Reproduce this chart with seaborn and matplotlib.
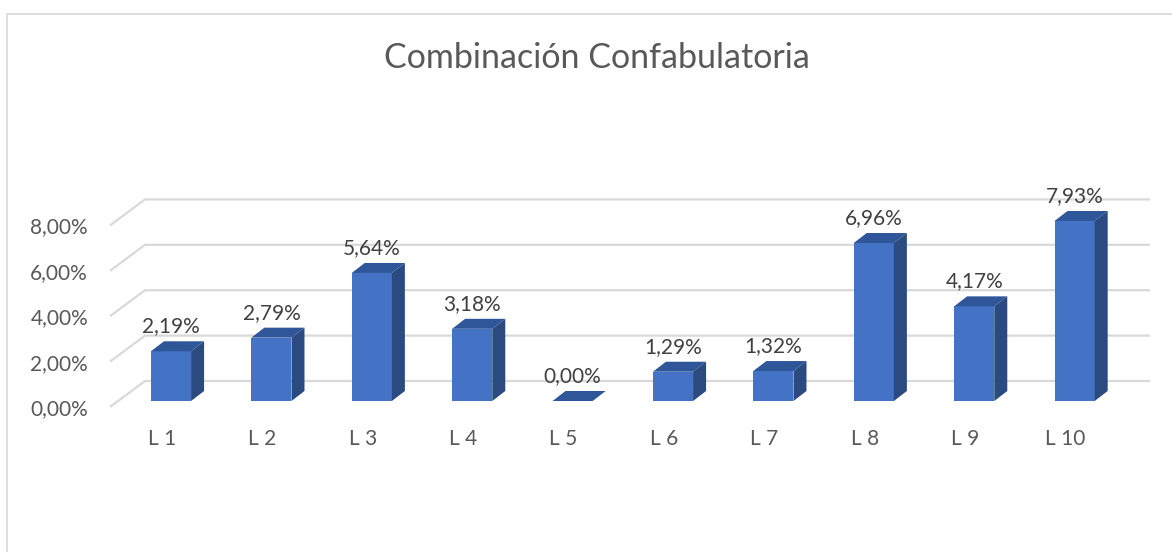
import numpy as np
import matplotlib
matplotlib.use("Agg")
import matplotlib.pyplot as plt
from matplotlib.patches import Polygon
from matplotlib.lines import Line2D
import seaborn as sns

# chart data
categories = ["L 1", "L 2", "L 3", "L 4", "L 5", "L 6", "L 7", "L 8", "L 9", "L 10"]
values = [2.19, 2.79, 5.64, 3.18, 0.00, 1.29, 1.32, 6.96, 4.17, 7.93]
tick_values = [0, 2, 4, 6, 8]
tick_labels = ["0,00%", "2,00%", "4,00%", "6,00%", "8,00%"]
title = "Combinación Confabulatoria"


def pct(v):
    return f"{v:.2f}".replace(".", ",") + "%"


sns.set_style("white")
plt.rcParams["font.family"] = ["Lato", "DejaVu Sans"]

FRONT = "#4472C4"
TOP = "#30569A"
SIDE = "#2A4A80"
GRID = "#D9D9D9"

W, H = 1172, 552
fig = plt.figure(figsize=(W / 100, H / 100), dpi=100)
ax = fig.add_axes([100 / W, (H - 425) / H, (1165 - 100) / W, (425 - 180) / H])
ax.set_facecolor("none")

# pixel -> data unit factors
ux = 1 / 100.4
uy = 1 / 22.7

sns.barplot(x=categories, y=values, ax=ax, color=FRONT, width=0.4,
            saturation=1, edgecolor="none", linewidth=0, zorder=3)

# fake 3D depth for each bar
dx, dy = 13 * ux, 10 * uy
for p, v in zip(ax.patches, values):
    x0, w, h = p.get_x(), p.get_width(), p.get_height()
    top = [(x0, h), (x0 + w, h), (x0 + w + dx, h + dy), (x0 + dx, h + dy)]
    side = [(x0 + w, 0), (x0 + w + dx, dy), (x0 + w + dx, h + dy), (x0 + w, h)]
    ax.add_patch(Polygon(top, closed=True, facecolor=TOP, edgecolor="none", zorder=3))
    ax.add_patch(Polygon(side, closed=True, facecolor=SIDE, edgecolor="none", zorder=3))
    ax.text(x0 + w / 2, h + 25 * uy, pct(v), ha="center", va="center",
            fontsize=15, color="#404040", zorder=5)

# back wall gridlines with the floor diagonal
front_off, back_off = -6 * uy, 20 * uy
gx = [(110 - 171) * ux, (145 - 171) * ux, (1150 - 171) * ux]
for v in tick_values:
    ax.plot(gx, [v + front_off, v + back_off, v + back_off], color=GRID,
            lw=1.6, zorder=1, clip_on=False, solid_capstyle="butt")

ax.set_xlim(-71 * ux, 994 * ux)
ax.set_ylim(-24 * uy, 221 * uy)
ax.set_yticks([v + front_off for v in tick_values], tick_labels)
ax.set_xticks(np.arange(len(categories)) - 9 * ux, categories)
ax.tick_params(axis="both", length=0, labelsize=15, colors="#595959")
ax.tick_params(axis="y", pad=8.6)
ax.tick_params(axis="x", pad=3)
ax.set_xlabel("")
ax.set_ylabel("")
sns.despine(ax=ax, left=True, bottom=True)

# chart area border (left and top only visible)
fig.add_artist(Line2D([6.5 / W, 6.5 / W], [0, (H - 14) / H], color=GRID, lw=1.2))
fig.add_artist(Line2D([6.5 / W, 1], [(H - 14) / H, (H - 14) / H], color=GRID, lw=1.2))

fig.text(597 / W, 1 - 58 / H, title, ha="center", va="center",
         fontsize=24.5, color="#595959")

fig.savefig("out.png", dpi=100)
